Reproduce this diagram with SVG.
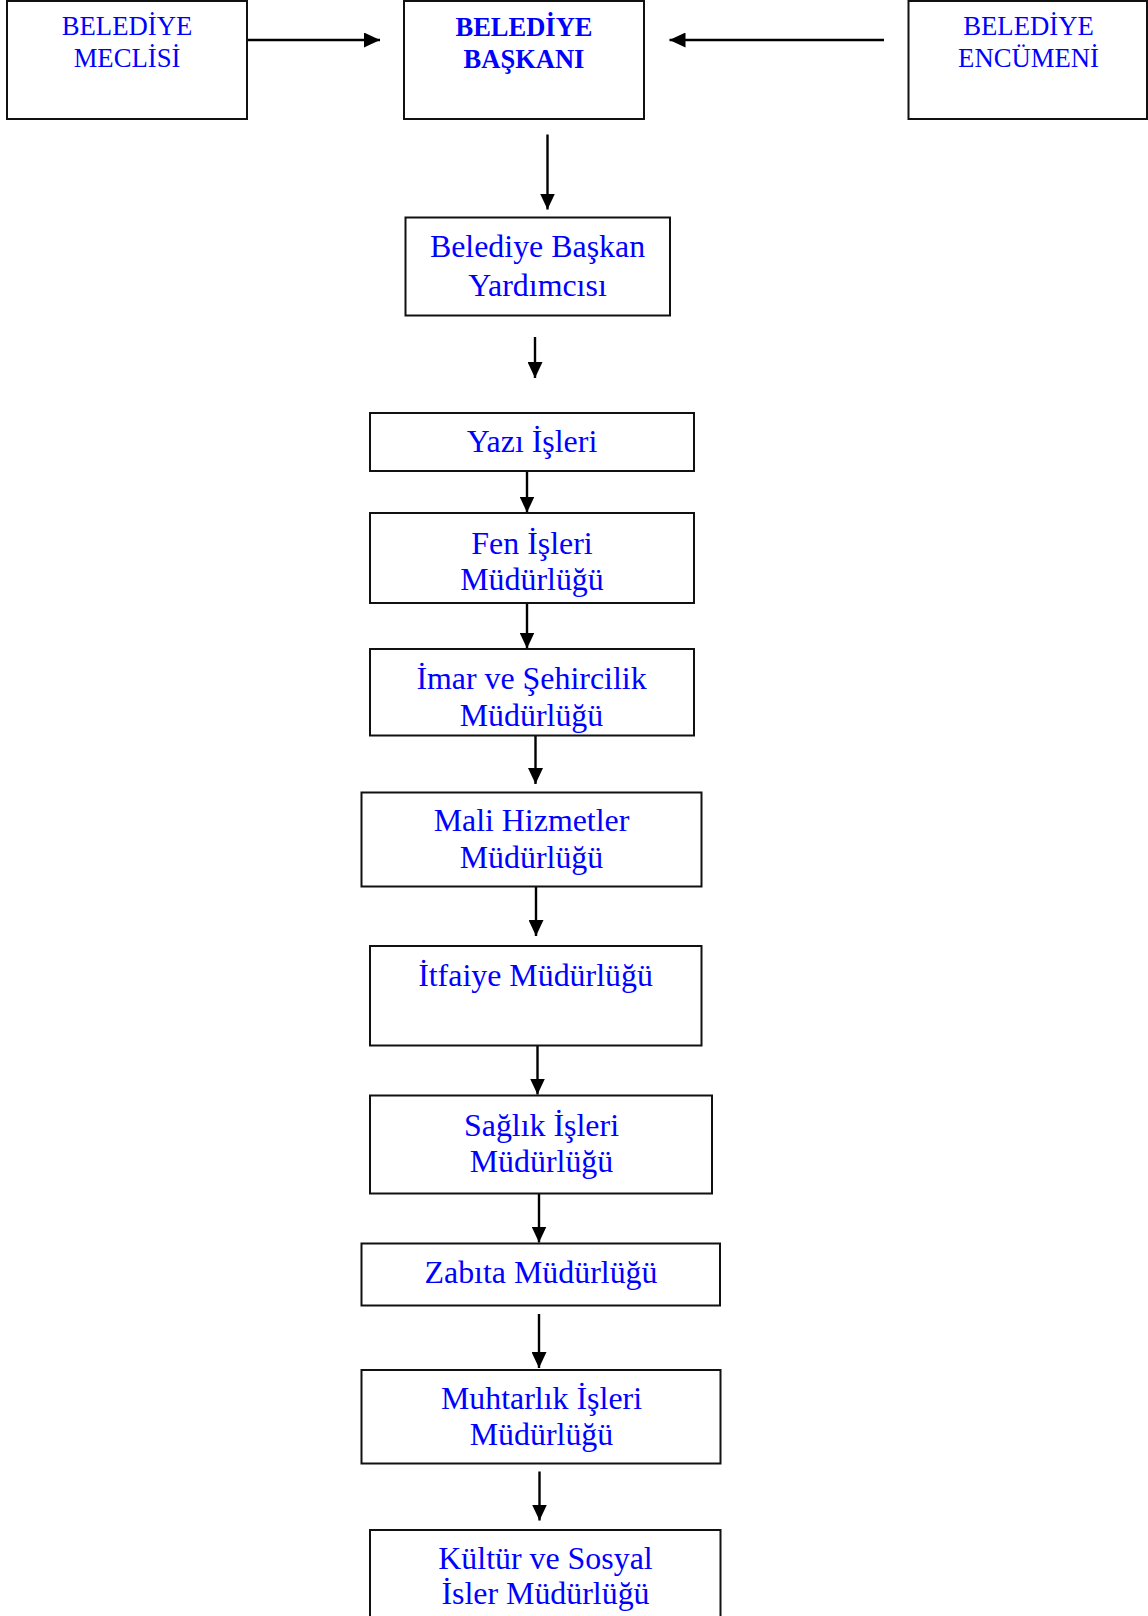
<svg xmlns="http://www.w3.org/2000/svg" width="1148" height="1616" viewBox="0 0 1148 1616">
  <style>
    .box { fill: #ffffff; stroke: #111111; stroke-width: 2; }
    .top { font-family: "Liberation Serif", "Times New Roman", serif; font-size: 26.7px; fill: #0000ff; text-anchor: middle; }
    .bold { font-weight: bold; font-size: 26.5px; }
    .lbl { font-family: "Liberation Serif", "Times New Roman", serif; font-size: 31.9px; fill: #0000ff; text-anchor: middle; }
    .conn { stroke: #000000; stroke-width: 2.4; fill: none; marker-end: url(#arrow); }
  </style>
  <defs>
    <marker id="arrow" viewBox="0 0 16 15" refX="16" refY="7.5" markerWidth="16" markerHeight="15" markerUnits="userSpaceOnUse" orient="auto">
      <path d="M0,0 L16,7.5 L0,15 z" fill="#000000"/>
    </marker>
  </defs>
  <rect width="1148" height="1616" fill="#ffffff"/>

  <g id="connectors">
    <line class="conn" x1="247" y1="40" x2="380" y2="40"/>
    <line class="conn" x1="884" y1="40" x2="669.5" y2="40"/>
    <line class="conn" x1="547.5" y1="134.5" x2="547.5" y2="209.5"/>
    <line class="conn" x1="535" y1="337" x2="535" y2="378"/>
    <line class="conn" x1="527" y1="471" x2="527" y2="512.5"/>
    <line class="conn" x1="527" y1="603" x2="527" y2="648.5"/>
    <line class="conn" x1="535.5" y1="735.5" x2="535.5" y2="784"/>
    <line class="conn" x1="536" y1="886.5" x2="536" y2="936"/>
    <line class="conn" x1="537.5" y1="1045.5" x2="537.5" y2="1094.5"/>
    <line class="conn" x1="539" y1="1193.5" x2="539" y2="1242.5"/>
    <line class="conn" x1="539" y1="1314" x2="539" y2="1368"/>
    <line class="conn" x1="539.5" y1="1471.5" x2="539.5" y2="1520.5"/>
  </g>

  <g id="meclis">
    <rect class="box" x="7" y="1" width="240" height="118"/>
    <text class="top" x="127" y="35">BELEDİYE</text>
    <text class="top" x="127" y="67">MECLİSİ</text>
  </g>
  <g id="baskan">
    <rect class="box" x="404" y="1" width="240" height="118"/>
    <text class="top bold" x="524" y="36">BELEDİYE</text>
    <text class="top bold" x="524" y="68">BAŞKANI</text>
  </g>
  <g id="encumen">
    <rect class="box" x="908.5" y="1" width="238.5" height="118"/>
    <text class="top" x="1028.5" y="35">BELEDİYE</text>
    <text class="top" x="1028.5" y="67">ENCÜMENİ</text>
  </g>
  <g id="yardimci">
    <rect class="box" x="405.5" y="217.5" width="264.5" height="98"/>
    <text class="lbl" x="537.5" y="257">Belediye Başkan</text>
    <text class="lbl" x="537.5" y="296">Yardımcısı</text>
  </g>
  <g id="yazi">
    <rect class="box" x="370" y="413" width="324" height="58"/>
    <text class="lbl" x="532" y="452">Yazı İşleri</text>
  </g>
  <g id="fen">
    <rect class="box" x="370" y="513" width="324" height="90"/>
    <text class="lbl" x="532" y="553.5">Fen İşleri</text>
    <text class="lbl" x="532" y="589.5">Müdürlüğü</text>
  </g>
  <g id="imar">
    <rect class="box" x="370" y="649" width="324" height="86.5"/>
    <text class="lbl" x="531.5" y="689">İmar ve Şehircilik</text>
    <text class="lbl" x="531.5" y="725.5">Müdürlüğü</text>
  </g>
  <g id="mali">
    <rect class="box" x="361.5" y="792.5" width="340" height="94"/>
    <text class="lbl" x="531.5" y="831">Mali Hizmetler</text>
    <text class="lbl" x="531.5" y="867.5">Müdürlüğü</text>
  </g>
  <g id="itfaiye">
    <rect class="box" x="370" y="946" width="331.5" height="99.5"/>
    <text class="lbl" x="535.5" y="985.5">İtfaiye Müdürlüğü</text>
  </g>
  <g id="saglik">
    <rect class="box" x="370" y="1095.5" width="342" height="98"/>
    <text class="lbl" x="541.5" y="1135.5">Sağlık İşleri</text>
    <text class="lbl" x="541.5" y="1171.5">Müdürlüğü</text>
  </g>
  <g id="zabita">
    <rect class="box" x="361.5" y="1243.5" width="358.5" height="62"/>
    <text class="lbl" x="541" y="1283">Zabıta Müdürlüğü</text>
  </g>
  <g id="muhtarlik">
    <rect class="box" x="361.5" y="1370" width="359" height="93.5"/>
    <text class="lbl" x="541.5" y="1409">Muhtarlık İşleri</text>
    <text class="lbl" x="541.5" y="1445">Müdürlüğü</text>
  </g>
  <g id="kultur">
    <rect class="box" x="370" y="1530" width="350.5" height="120"/>
    <text class="lbl" x="545.5" y="1569">Kültür ve Sosyal</text>
    <text class="lbl" x="545.5" y="1604">İsler Müdürlüğü</text>
  </g>
</svg>
